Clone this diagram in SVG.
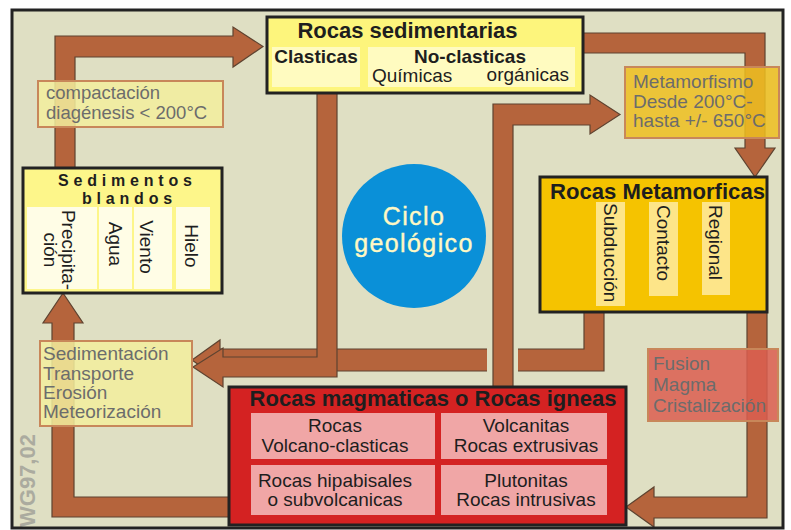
<svg xmlns="http://www.w3.org/2000/svg" width="791" height="530" viewBox="0 0 791 530">
<style>
text{font-family:"Liberation Sans",Arial,sans-serif;}
.arr{fill:#b5643c;stroke:#5e4330;stroke-width:1.2;stroke-linejoin:miter;}
.box{stroke:#222;stroke-width:3;}
.t{font-weight:bold;fill:#1e1e1e;font-size:22px;}
.s{font-size:19px;fill:#1e1e1e;}
.sb{font-size:19px;font-weight:bold;fill:#1e1e1e;}
.lbl{font-size:19px;fill:#6c6c6c;}
.lbox{stroke:#c8875a;stroke-width:2;fill-opacity:0.85;}
</style>
<rect x="0" y="0" width="791" height="530" fill="#ffffff"/>
<rect x="12" y="10" width="771" height="518" fill="#dfdfc3"/>

<g id="connectors">
<polygon class="arr" points="55,168 55,36 233,36 233,27 263,46.5 233,67 233,57 75,57 75,168"/>
<polygon class="arr" points="583,33 765,33 765,148 775,148 755,177 735,148 745,148 745,53 583,53"/>
<polygon class="arr" points="747,312 767,312 767,518 654,518 654,527 626,507 654,487 654,497 747,497"/>
<polygon class="arr" points="584,312 604,312 604,371 220,371 220,380 192,360 220,340 220,349 584,349"/>
<polygon class="arr" points="317,93 337,93 337,377 223,377 223,387 193,367 223,348 223,357 317,357"/>
<polygon class="arr" points="230,497 230,517 52,517 52,323 43,323 63,293 83,323 74,323 74,497"/>
<rect x="487" y="346" width="31" height="28" fill="#dfdfc3"/>
<polygon class="arr" points="493,387 493,104 590,104 590,95 620,114.5 590,134 590,125 513,125 513,387"/>
</g>

<g id="rocas-sedimentarias">
<rect class="box" x="267" y="17" width="316" height="76" fill="#fdf57c"/>
<rect x="272" y="47" width="88" height="40" fill="#fffbc0"/>
<rect x="368" y="47" width="207" height="40" fill="#fffbc0"/>
<text class="t" x="407.5" y="38" text-anchor="middle">Rocas sedimentarias</text>
<text class="sb" x="316" y="63" text-anchor="middle">Clasticas</text>
<text class="sb" x="470" y="63" text-anchor="middle">No-clasticas</text>
<text class="s" x="372" y="82">Químicas</text>
<text class="s" x="569" y="81" text-anchor="end">orgánicas</text>
</g>

<g id="sedimentos-blandos">
<rect class="box" x="23" y="168" width="199" height="125" fill="#fdf68a"/>
<rect x="27" y="207" width="70" height="82" fill="#fffde6"/>
<rect x="99" y="207" width="33" height="82" fill="#fffde6"/>
<rect x="134" y="207" width="38" height="82" fill="#fffde6"/>
<rect x="176" y="207" width="34" height="82" fill="#fffde6"/>
<text x="58" y="185.5" style="font-size:16px;font-weight:bold;letter-spacing:4.8px;fill:#1e1e1e">Sedimentos</text>
<text x="82" y="204" style="font-size:16px;font-weight:bold;letter-spacing:4.8px;fill:#1e1e1e">blandos</text>
<text class="s" text-anchor="middle" transform="translate(62,250) rotate(90)">Precipita-</text>
<text class="s" text-anchor="middle" transform="translate(44,250) rotate(90)">ción</text>
<text class="s" text-anchor="middle" transform="translate(108.5,244) rotate(90)">Agua</text>
<text class="s" text-anchor="middle" transform="translate(140,247) rotate(90)">Viento</text>
<text class="s" text-anchor="middle" transform="translate(185,246) rotate(90)">Hielo</text>
</g>

<g id="rocas-metamorficas">
<rect class="box" x="540" y="177" width="227" height="135" fill="#f5c300"/>
<rect x="596" y="202" width="29" height="104" fill="#fde589"/>
<rect x="649" y="202" width="29" height="94" fill="#fde589"/>
<rect x="702" y="202" width="28" height="93" fill="#fde589"/>
<text class="t" x="550" y="199" textLength="215" lengthAdjust="spacingAndGlyphs">Rocas Metamorficas</text>
<text class="s" transform="translate(603.5,203) rotate(90)">Subducción</text>
<text class="s" transform="translate(656.5,205) rotate(90)">Contacto</text>
<text class="s" transform="translate(708.5,205) rotate(90)">Regional</text>
</g>

<g id="rocas-magmaticas">
<rect class="box" x="229" y="387" width="397" height="138" fill="#d42222"/>
<rect x="251" y="413" width="184" height="46" fill="#f0a6a6"/>
<rect x="441" y="413" width="166" height="46" fill="#f0a6a6"/>
<rect x="251" y="465" width="184" height="50" fill="#f0a6a6"/>
<rect x="441" y="465" width="166" height="50" fill="#f0a6a6"/>
<text class="t" x="433" y="406" text-anchor="middle">Rocas magmaticas o Rocas igneas</text>
<text class="s" x="335" y="432" text-anchor="middle">Rocas</text>
<text class="s" x="335" y="452" text-anchor="middle">Volcano-clasticas</text>
<text class="s" x="526" y="432" text-anchor="middle">Volcanitas</text>
<text class="s" x="526" y="452" text-anchor="middle">Rocas extrusivas</text>
<text class="s" x="335" y="487" text-anchor="middle">Rocas hipabisales</text>
<text class="s" x="335" y="506" text-anchor="middle">o subvolcanicas</text>
<text class="s" x="526" y="487" text-anchor="middle">Plutonitas</text>
<text class="s" x="526" y="506" text-anchor="middle">Rocas intrusivas</text>
</g>

<g id="ciclo">
<circle cx="414" cy="236" r="72" fill="#0a90d8"/>
<text x="414" y="225" text-anchor="middle" style="font-size:25px;letter-spacing:1.4px;fill:#fff8c4;stroke:#fff8c4;stroke-width:0.4">Ciclo</text>
<text x="414" y="252" text-anchor="middle" style="font-size:25px;letter-spacing:1.4px;fill:#fff8c4;stroke:#fff8c4;stroke-width:0.4">geológico</text>
</g>

<g id="label-compactacion">
<rect class="lbox" x="38" y="81" width="185" height="46" fill="#f3ee9d"/>
<text class="lbl" x="46" y="99" style="font-size:18.5px">compactación</text>
<text class="lbl" x="46" y="119" style="font-size:18.5px">diagénesis &lt; 200°C</text>
</g>

<g id="label-metamorfismo">
<rect class="lbox" x="625" y="67" width="154" height="71" fill="#efc020"/>
<text class="lbl" x="633" y="88">Metamorfismo</text>
<text class="lbl" x="633" y="108">Desde 200°C-</text>
<text class="lbl" x="633" y="127">hasta +/- 650°C</text>
</g>

<g id="label-fusion">
<rect class="lbox" x="648" y="349" width="130" height="72" fill="#dc5e50"/>
<text class="lbl" x="653" y="370">Fusion</text>
<text class="lbl" x="653" y="391">Magma</text>
<text class="lbl" x="653" y="412">Cristalización</text>
</g>

<g id="label-sedimentacion">
<rect class="lbox" x="40" y="341" width="152" height="85" fill="#f3ee9d"/>
<text class="lbl" x="43" y="360">Sedimentación</text>
<text class="lbl" x="43" y="380">Transporte</text>
<text class="lbl" x="43" y="399">Erosión</text>
<text class="lbl" x="43" y="418">Meteorización</text>
</g>

<text x="35" y="527" transform="rotate(-90 35 527)" style="font-size:22px;font-weight:bold;fill:#abab9f">WG97,02</text>

<rect x="12" y="10" width="771" height="518" fill="none" stroke="#222" stroke-width="3"/>
</svg>
